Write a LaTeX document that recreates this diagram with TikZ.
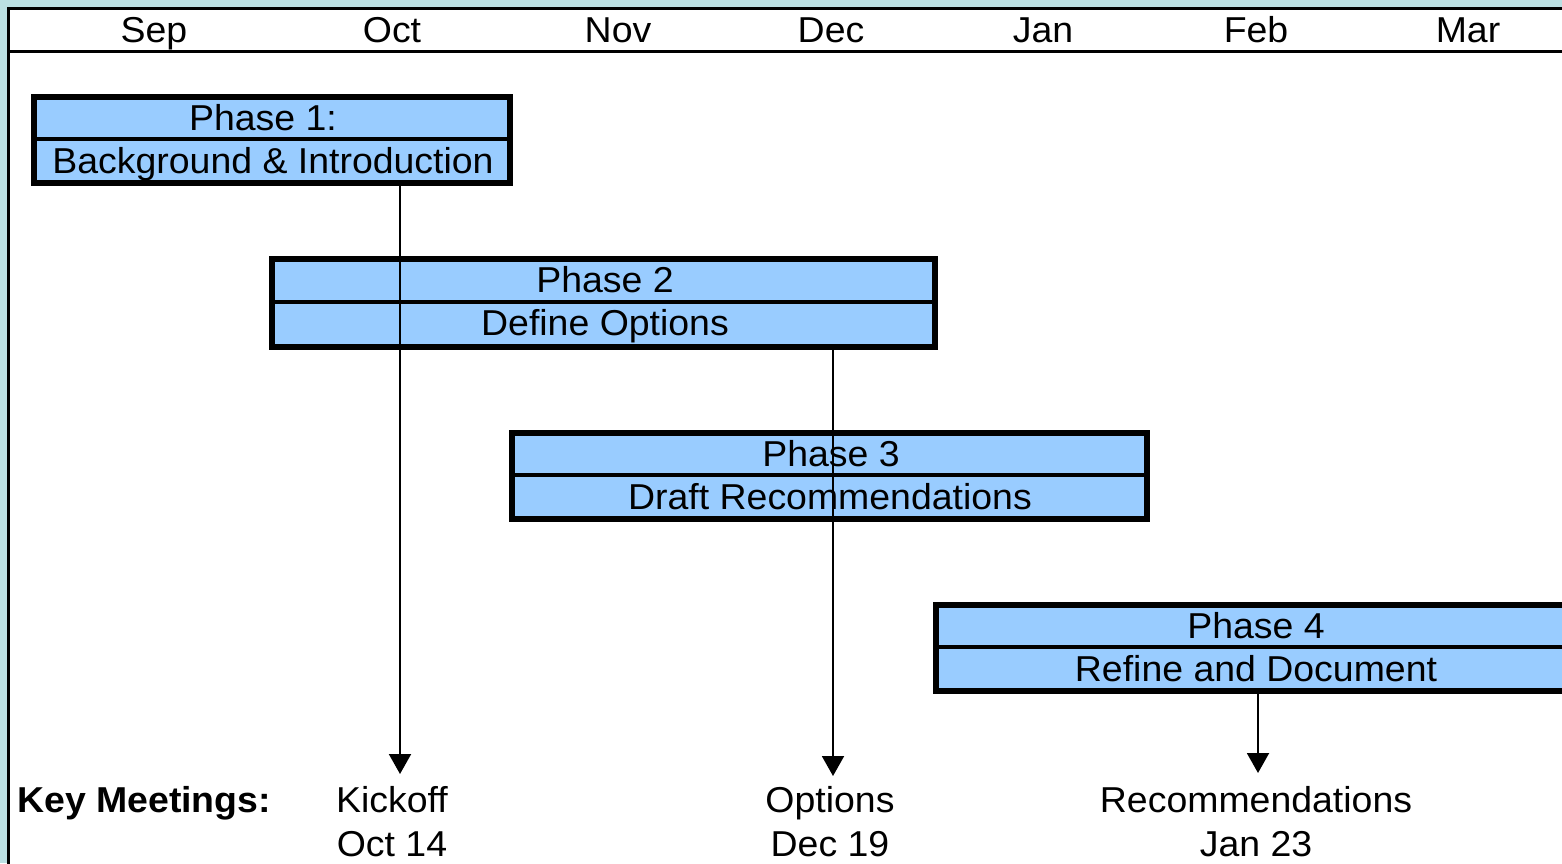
\documentclass[tikz,border=0pt]{standalone}
\usepackage{fontspec}
\setmainfont{Liberation Sans}[FakeStretch=1.04]
\usetikzlibrary{arrows.meta}
\definecolor{tealbg}{HTML}{BBE0E3}
\definecolor{phasefill}{HTML}{99CCFF}
\begin{document}
\begin{tikzpicture}[x=1pt,y=-1pt,
  every node/.style={font=\fontsize{36}{44}\selectfont, inner sep=0pt},
  phasebox/.style={draw=black, line width=6pt, fill=phasefill, rectangle},
  divider/.style={draw=black, line width=4pt},
  txt/.style={anchor=base},
  meetarrow/.style={draw=black, line width=2pt, -{Triangle[width=22pt,length=20pt]}}
]
\clip (0,0) rectangle (1562,863);
\fill[tealbg] (0,0) rectangle (1562,863);
\draw[line width=3pt, fill=white] (8.7,8.7) rectangle (1600,900);
\draw[line width=3pt] (8.7,51.3) -- (1600,51.3);
% months
\node[txt] (sep) at (154,42) {Sep};
\node[txt] (oct) at (392,42) {Oct};
\node[txt] (nov) at (618,42) {Nov};
\node[txt] (dec) at (831,42) {Dec};
\node[txt] (jan) at (1043,42) {Jan};
\node[txt] (feb) at (1256,42) {Feb};
\node[txt] (mar) at (1468,42) {Mar};
% phase boxes
\node[phasebox, minimum width=476pt, minimum height=86pt] (p1) at (272,140) {};
\draw[divider] (p1.west |- 0,139) -- (p1.east |- 0,139);
\node[txt] (p1a) at (263,130) {Phase 1:};
\node[txt] (p1b) at (273,173) {Background \& Introduction};

\node[phasebox, minimum width=663pt, minimum height=87.5pt] (p2) at (603.5,302.75) {};
\draw[divider] (p2.west |- 0,302) -- (p2.east |- 0,302);
\node[txt] (p2a) at (605,292) {Phase 2};
\node[txt] (p2b) at (605,335) {Define Options};

\node[phasebox, minimum width=635pt, minimum height=86pt] (p3) at (829.5,476) {};
\draw[divider] (p3.west |- 0,475) -- (p3.east |- 0,475);
\node[txt] (p3a) at (831,466) {Phase 3};
\node[txt] (p3b) at (830,509) {Draft Recommendations};

\node[phasebox, minimum width=700pt, minimum height=86pt] (p4) at (1286,648) {};
\draw[divider] (p4.west |- 0,647) -- (p4.east |- 0,647);
\node[txt] (p4a) at (1256,638) {Phase 4};
\node[txt] (p4b) at (1256,681) {Refine and Document};
% meetings
\node[txt, anchor=base west, font=\fontsize{36}{44}\selectfont\bfseries] (km) at (17,812) {Key Meetings:};
\node[txt, align=center] (m1) at (392,856) {Kickoff\\Oct 14};
\node[txt, align=center] (m2) at (830,856) {Options\\Dec 19};
\node[txt, align=center] (m3) at (1256,856) {Recommendations\\Jan 23};
\coordinate (t1) at (400,774);
\coordinate (t2) at (833,776);
\coordinate (t3) at (1258,773);
% arrows
\draw[meetarrow] (p1.south -| t1) -- (t1);
\draw[meetarrow] (p2.south -| t2) -- (t2);
\draw[meetarrow] (p4.south -| t3) -- (t3);
\end{tikzpicture}
\end{document}
